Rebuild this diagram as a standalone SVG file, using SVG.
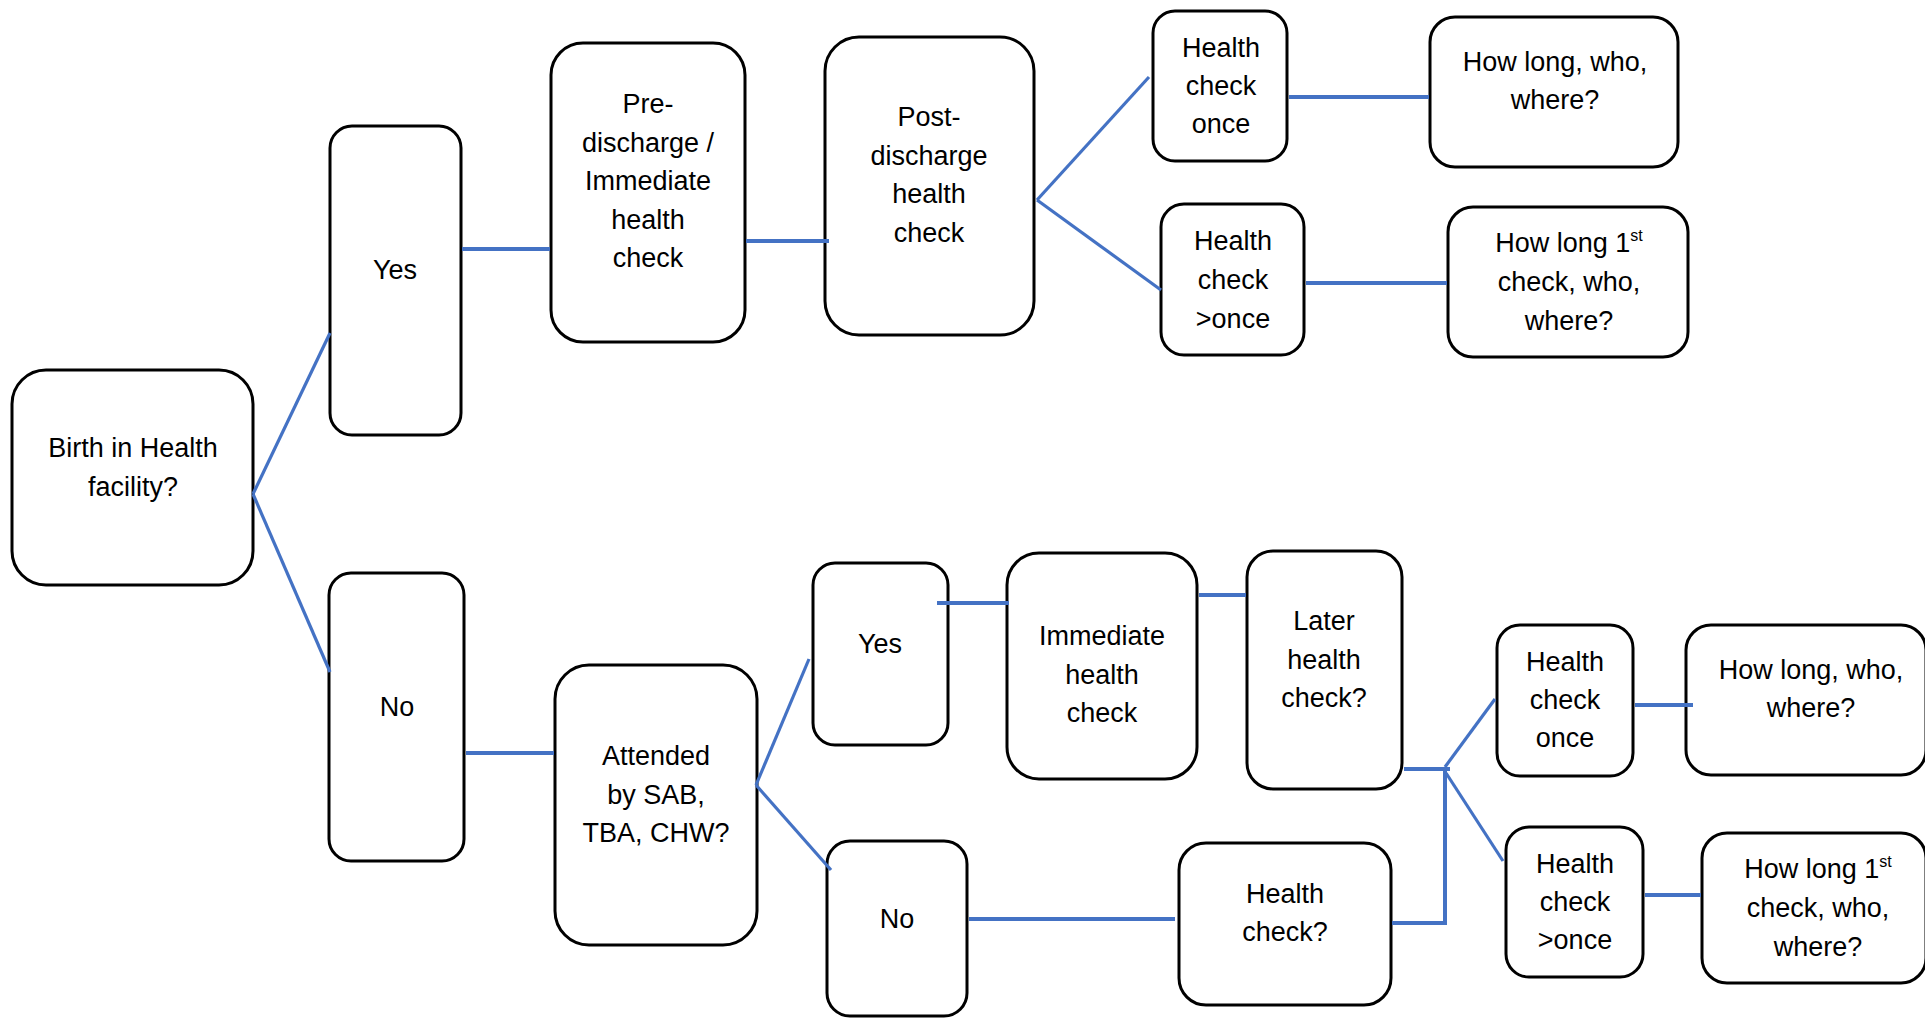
<svg xmlns="http://www.w3.org/2000/svg" width="1925" height="1018" viewBox="0 0 1925 1018">
<style>
.box{fill:#fff;stroke:#000;stroke-width:3}
.t{font-family:"Liberation Sans",Arial,sans-serif;font-size:27px;fill:#000;text-anchor:middle}
.c{fill:none;stroke:#4472C4;stroke-width:4}
.d{fill:none;stroke:#4472C4;stroke-width:3.2}
</style>
<rect width="1925" height="1018" fill="#fff"/>
<g id="birth"><rect class="box" x="12" y="370" width="241" height="215" rx="34"/>
<text class="t" x="133" y="457">Birth in Health</text><text class="t" x="133" y="496">facility?</text></g>
<g id="yes1"><rect class="box" x="330" y="126" width="131" height="309" rx="22"/>
<text class="t" x="395" y="279">Yes</text></g>
<g id="pre"><rect class="box" x="551" y="43" width="194" height="299" rx="32"/>
<text class="t" x="648" y="113">Pre-</text><text class="t" x="648" y="151.5">discharge /</text><text class="t" x="648" y="190">Immediate</text><text class="t" x="648" y="228.5">health</text><text class="t" x="648" y="267">check</text></g>
<g id="post"><rect class="box" x="825" y="37" width="209" height="298" rx="34"/>
<text class="t" x="929" y="126">Post-</text><text class="t" x="929" y="164.5">discharge</text><text class="t" x="929" y="203">health</text><text class="t" x="929" y="241.5">check</text></g>
<g id="hconce1"><rect class="box" x="1153" y="11" width="134" height="150" rx="22"/>
<text class="t" x="1221" y="57">Health</text><text class="t" x="1221" y="95">check</text><text class="t" x="1221" y="133">once</text></g>
<g id="howlong1"><rect class="box" x="1430" y="17" width="248" height="150" rx="25"/>
<text class="t" x="1555" y="71">How long, who,</text><text class="t" x="1555" y="109">where?</text></g>
<g id="hcmore1"><rect class="box" x="1161" y="204" width="143" height="151" rx="23"/>
<text class="t" x="1233" y="250">Health</text><text class="t" x="1233" y="289">check</text><text class="t" x="1233" y="328">&gt;once</text></g>
<g id="howlong2"><rect class="box" x="1448" y="207" width="240" height="150" rx="25"/>
<text class="t" x="1569" y="252">How long 1<tspan dy="-11" font-size="16">st</tspan></text><text class="t" x="1569" y="291">check, who,</text><text class="t" x="1569" y="330">where?</text></g>
<g id="no1"><rect class="box" x="329" y="573" width="135" height="288" rx="22"/>
<text class="t" x="397" y="716">No</text></g>
<g id="attended"><rect class="box" x="555" y="665" width="202" height="280" rx="34"/>
<text class="t" x="656" y="765">Attended</text><text class="t" x="656" y="803.5">by SAB,</text><text class="t" x="656" y="842">TBA, CHW?</text></g>
<g id="yes2"><rect class="box" x="813" y="563" width="135" height="182" rx="22"/>
<text class="t" x="880" y="653">Yes</text></g>
<g id="no2"><rect class="box" x="827" y="841" width="140" height="175" rx="23"/>
<text class="t" x="897" y="928">No</text></g>
<g id="immediate"><rect class="box" x="1007" y="553" width="190" height="226" rx="32"/>
<text class="t" x="1102" y="645">Immediate</text><text class="t" x="1102" y="683.5">health</text><text class="t" x="1102" y="722">check</text></g>
<g id="later"><rect class="box" x="1247" y="551" width="155" height="238" rx="26"/>
<text class="t" x="1324" y="630">Later</text><text class="t" x="1324" y="668.5">health</text><text class="t" x="1324" y="707">check?</text></g>
<g id="healthcheck"><rect class="box" x="1179" y="843" width="212" height="162" rx="27"/>
<text class="t" x="1285" y="903">Health</text><text class="t" x="1285" y="941">check?</text></g>
<g id="hconce2"><rect class="box" x="1497" y="625" width="136" height="151" rx="23"/>
<text class="t" x="1565" y="671">Health</text><text class="t" x="1565" y="709">check</text><text class="t" x="1565" y="747">once</text></g>
<g id="howlong3"><rect class="box" x="1686" y="625" width="240" height="150" rx="25"/>
<text class="t" x="1811" y="679">How long, who,</text><text class="t" x="1811" y="717">where?</text></g>
<g id="hcmore2"><rect class="box" x="1506" y="827" width="137" height="150" rx="23"/>
<text class="t" x="1575" y="873">Health</text><text class="t" x="1575" y="911">check</text><text class="t" x="1575" y="949">&gt;once</text></g>
<g id="howlong4"><rect class="box" x="1702" y="833" width="224" height="150" rx="25"/>
<text class="t" x="1818" y="878">How long 1<tspan dy="-11" font-size="16">st</tspan></text><text class="t" x="1818" y="917">check, who,</text><text class="t" x="1818" y="956">where?</text></g>
<g id="connectors">
<path class="d" d="M253,494 L330,333"/>
<path class="d" d="M253,494 L330,672"/>
<path class="c" d="M462,249 H550"/>
<path class="c" d="M746,241 H829"/>
<path class="d" d="M1037,200 L1149,77"/>
<path class="d" d="M1037,200 L1161,290"/>
<path class="c" d="M1289,97 H1429"/>
<path class="c" d="M1306,283 H1447"/>
<path class="c" d="M466,753 H554"/>
<path class="d" d="M756,785 L809,659"/>
<path class="d" d="M756,785 L831,870"/>
<path class="c" d="M937,603 H1009"/>
<path class="c" d="M1199,595 H1246"/>
<path class="c" d="M1404,769 H1450"/>
<path class="c" d="M1445,769 V923 H1392"/>
<path class="d" d="M1445,767 L1495,699"/>
<path class="d" d="M1446,773 L1503,861"/>
<path class="c" d="M969,919 H1175"/>
<path class="c" d="M1635,705 H1693"/>
<path class="c" d="M1645,895 H1701"/>
</g>
</svg>
